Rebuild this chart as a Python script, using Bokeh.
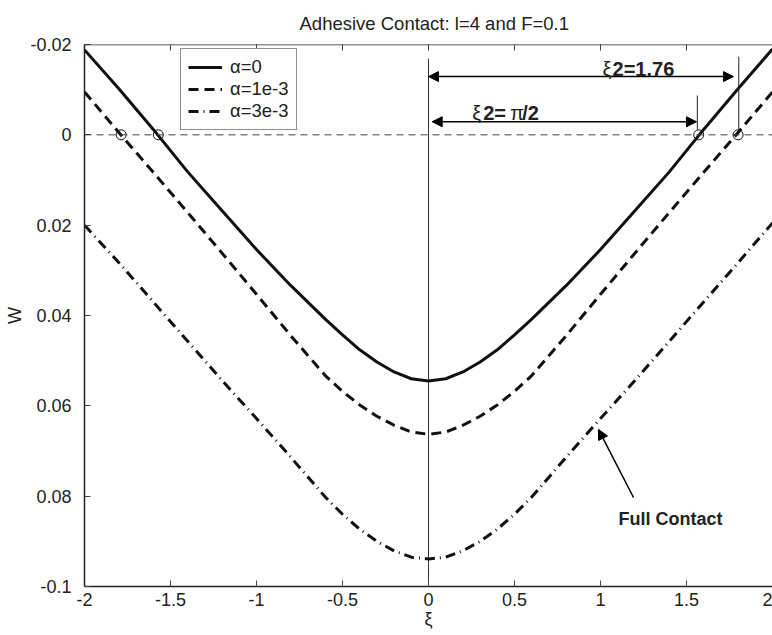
import math
from bokeh.plotting import figure
from bokeh.models import (Range1d, FixedTicker, Legend, LegendItem, Span,
                          Arrow, NormalHead, Label, ColumnDataSource)
from bokeh.embed import file_html
from bokeh.resources import INLINE

# ---- data ----
xi = [-2.0, -1.8, -1.6, -1.4, -1.2, -1.0, -0.8, -0.7, -0.6, -0.5, -0.4, -0.3, -0.2, -0.1, 0.0,
      0.1, 0.2, 0.3, 0.4, 0.5, 0.6, 0.7, 0.8, 1.0, 1.2, 1.4, 1.6, 1.8, 2.0]
w_a0 = [-0.0188, -0.0102, -0.0012, 0.0082, 0.0168, 0.0254, 0.0334, 0.0371, 0.0408, 0.0443, 0.0476, 0.0503, 0.0525, 0.0540, 0.0545,
        0.0540, 0.0525, 0.0503, 0.0476, 0.0443, 0.0408, 0.0371, 0.0334, 0.0254, 0.0168, 0.0082, -0.0012, -0.0102, -0.0190]
w_a1 = [-0.0095, -0.0005, 0.0083, 0.0172, 0.0262, 0.0353, 0.0445, 0.0489, 0.0533, 0.0568, 0.0598, 0.0623, 0.0643, 0.0658, 0.0663,
        0.0658, 0.0643, 0.0623, 0.0598, 0.0568, 0.0533, 0.0489, 0.0445, 0.0353, 0.0262, 0.0172, 0.0083, -0.0005, -0.0095]
w_a3 = [0.0200, 0.0283, 0.0370, 0.0457, 0.0544, 0.0628, 0.0714, 0.0758, 0.0802, 0.0840, 0.0873, 0.0900, 0.0921, 0.0935, 0.0939,
        0.0935, 0.0921, 0.0900, 0.0873, 0.0840, 0.0802, 0.0758, 0.0714, 0.0628, 0.0544, 0.0457, 0.0370, 0.0283, 0.0195]
series_labels = ["α=0", "α=1e-3", "α=3e-3"]
title_text = "Adhesive Contact: l=4 and F=0.1"

circle_xi = [-1.787, -1.571, 1.571, 1.80]
circle_w = [0.0, 0.0, 0.0, 0.0]

x_ticks = [-2, -1.5, -1, -0.5, 0, 0.5, 1, 1.5, 2]
x_tick_labels = ["-2", "-1.5", "-1", "-0.5", "0", "0.5", "1", "1.5", "2"]
y_ticks = [-0.02, 0.0, 0.02, 0.04, 0.06, 0.08, 0.1]
y_tick_labels = ["-0.02", "0", "0.02", "0.04", "0.06", "0.08", "-0.1"]

FONT = "Liberation Sans"
FS = "18px"
INK = "#222222"

p = figure(width=772, height=635, output_backend="svg", toolbar_location=None,
           x_range=Range1d(-2, 2), y_range=Range1d(0.1, -0.02),
           min_border_left=84, min_border_right=0, min_border_top=43, min_border_bottom=49,
           title=title_text)
p.grid.visible = False
p.outline_line_color = None
p.background_fill_color = "white"
p.border_fill_color = "white"

p.title.text_font = FONT
p.title.text_font_size = "18.5px"
p.title.text_font_style = "normal"
p.title.text_color = INK
p.title.align = "left"
p.title.offset = 215
p.title.standoff = 21

for ax, ticks, labels in ((p.xaxis[0], x_ticks, x_tick_labels), (p.yaxis[0], y_ticks, y_tick_labels)):
    ax.ticker = FixedTicker(ticks=ticks)
    ax.major_label_overrides = {t: l for t, l in zip(ticks, labels)}
    ax.major_label_text_font = FONT
    ax.major_label_text_font_size = FS
    ax.major_label_text_color = INK
    ax.major_tick_in = 6
    ax.major_tick_out = 0
    ax.minor_tick_line_color = None
    ax.axis_line_width = 1.5
    ax.axis_line_color = INK
    ax.major_tick_line_color = "#444444"
    ax.axis_label_text_font = FONT
    ax.axis_label_text_font_size = FS
    ax.axis_label_text_font_style = "normal"
    ax.axis_label_text_color = INK

p.xaxis[0].axis_label = "ξ"
p.xaxis[0].major_label_standoff = 6
p.xaxis[0].axis_label_standoff = 0
p.yaxis[0].axis_label = "W"
p.yaxis[0].major_label_standoff = 13
p.yaxis[0].axis_label_standoff = 2

# top border of the box, with inward ticks
p.add_layout(Span(location=y_ticks[0], dimension="width", line_color=INK, line_width=1.5))
p.scatter(x_ticks, [y_ticks[0]] * len(x_ticks), marker="dash", angle=math.pi / 2, size=12,
          line_color="#444444", line_width=1)

# reference lines
p.add_layout(Span(location=0, dimension="width", line_color="#444444", line_width=1, line_dash="7 5"))
p.segment(x0=[0], y0=[-0.0169], x1=[0], y1=[y_ticks[-1]], line_color="#333333", line_width=1)

src = ColumnDataSource(dict(xi=xi, a0=w_a0, a1=w_a1, a3=w_a3))
r0 = p.line("xi", "a0", source=src, line_color="#111111", line_width=3)
r1 = p.line("xi", "a1", source=src, line_color="#111111", line_width=3, line_dash="10 6")
r3 = p.line("xi", "a3", source=src, line_color="#111111", line_width=3, line_dash="10 5 1 5")

p.scatter(circle_xi, circle_w, marker="circle", size=10, fill_color=None,
          line_color="#111111", line_width=1)

# marker lines for xi2
p.segment(x0=[1.804, 1.563], y0=[-0.0173, -0.0087], x1=[1.804, 1.563], y1=[-0.0012, -0.0012],
          line_color=INK, line_width=1)

# dimension arrows
def head():
    return NormalHead(size=10, fill_color="black", line_color="black")

p.add_layout(Arrow(start=head(), end=head(),
                   x_start=0.0, y_start=-0.0129, x_end=1.773, y_end=-0.0129,
                   line_width=1.5, line_color="black"))
p.add_layout(Arrow(start=head(), end=head(),
                   x_start=0.0215, y_start=-0.0029, x_end=1.558, y_end=-0.0029,
                   line_width=1.5, line_color="black"))
p.add_layout(Arrow(end=head(),
                   x_start=1.192, y_start=0.0803, x_end=0.988, y_end=0.0652,
                   line_width=1.5, line_color="black"))

def lab(x, y, text, bold=False, dx=0, size=FS):
    p.add_layout(Label(x=x, y=y, x_offset=dx, text=text, text_font=FONT, text_font_size=size,
                       text_font_style="bold" if bold else "normal", text_color=INK,
                       text_baseline="alphabetic", text_align="left"))

lab(1.012, -0.01465, "ξ", size="20px")
lab(1.012, -0.01465, "2=1.76", bold=True, dx=10, size="20px")
lab(0.254, -0.00477, "ξ", size="20px")
lab(0.254, -0.00477, "2=", bold=True, dx=11, size="20px")
lab(0.254, -0.00477, "π", dx=38, size="20px")
lab(0.254, -0.00477, "/2", bold=True, dx=50, size="20px")
lab(1.105, 0.0851, "Full Contact", bold=True)

legend = Legend(items=[LegendItem(label=series_labels[0], renderers=[r0]),
                       LegendItem(label=series_labels[1], renderers=[r1]),
                       LegendItem(label=series_labels[2], renderers=[r3])],
                location=(96, 456), margin=0, padding=7, spacing=0,
                glyph_width=34, glyph_height=18, label_height=18, label_standoff=8,
                label_text_font=FONT, label_text_font_size="18.5px", label_text_color=INK,
                border_line_color=INK, border_line_width=1.5,
                background_fill_color="white", background_fill_alpha=1.0)
p.add_layout(legend)

open("out.html", "w").write(file_html(p, INLINE))
